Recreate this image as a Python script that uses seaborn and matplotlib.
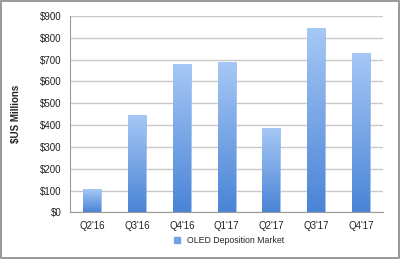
import numpy as np
import pandas as pd
import matplotlib
matplotlib.use("Agg")
import matplotlib.pyplot as plt
import seaborn as sns
from matplotlib.colors import LinearSegmentedColormap
from matplotlib.ticker import FuncFormatter, MultipleLocator

categories = ["Q2'16", "Q3'16", "Q4'16", "Q1'17", "Q2'17", "Q3'17", "Q4'17"]
values = [105, 445, 680, 690, 385, 845, 730]
series_name = "OLED Deposition Market"

sns.set_theme(style="white")
plt.rcParams['font.family'] = ['Liberation Sans', 'DejaVu Sans']

df = pd.DataFrame({"Quarter": categories, "Value": values, "Series": series_name})

fig = plt.figure(figsize=(4.0, 2.59), dpi=100)
ax = fig.add_axes([0.175, 0.18, 0.783, 0.758])

sns.barplot(data=df, x="Quarter", y="Value", hue="Series", palette=["#6fa2e8"],
            width=0.4, ax=ax, legend=False)

cmap = LinearSegmentedColormap.from_list("g", ["#4a84d6", "#a6c8f6"])
grad = np.linspace(0, 1, 256).reshape(-1, 1)
for p in ax.patches:
    x0, y0 = p.get_x(), p.get_y()
    w, h = p.get_width(), p.get_height()
    im = ax.imshow(grad, extent=[x0, x0 + w, y0, y0 + h], origin="lower",
                   cmap=cmap, aspect="auto", zorder=p.get_zorder() + 0.1)
    im.set_clip_path(p)
    p.set_edgecolor("#9dbff0")
    p.set_linewidth(0.5)

ax.set_xlim(-0.5, len(categories) - 0.5)
ax.set_ylim(0, 900)
ax.yaxis.set_major_locator(MultipleLocator(100))
ax.yaxis.set_major_formatter(FuncFormatter(lambda v, _: f"${int(v)}"))
ax.grid(axis="y", color="#c8c8c8", linewidth=1.0)
ax.set_axisbelow(True)

for s in ["top", "right"]:
    ax.spines[s].set_visible(False)
for s in ["left", "bottom"]:
    ax.spines[s].set_color("#9a9a9a")
    ax.spines[s].set_linewidth(0.8)

ax.set_xticks(np.arange(len(categories)))
ax.set_xticks(np.arange(-0.5, len(categories)), minor=True)
ax.tick_params(axis="x", which="major", length=0, labelsize=7, colors="#222222", pad=6)
ax.tick_params(axis="x", which="minor", length=3, color="#9a9a9a", width=0.8, direction="out")
ax.tick_params(axis="y", length=3, color="#9a9a9a", width=0.8, labelsize=7, colors="#222222", pad=3, direction="out")
ax.set_xlabel("")
ax.set_ylabel("$US Millions", fontsize=7, fontweight="bold", color="#222222", labelpad=14)

handle = plt.Line2D([], [], marker="s", linestyle="", markersize=4,
                    markerfacecolor="#6fa2e8", markeredgecolor="#6fa2e8")
fig.legend([handle], [series_name], loc="center", bbox_to_anchor=(0.565, 0.07),
           frameon=False, fontsize=6.3, handletextpad=0.1, borderaxespad=0)

border = plt.Rectangle((0.003, 0.004), 0.994, 0.992, transform=fig.transFigure,
                       fill=False, edgecolor="#888888", linewidth=1.2)
fig.patches.append(border)

fig.savefig("out.png", dpi=100)
